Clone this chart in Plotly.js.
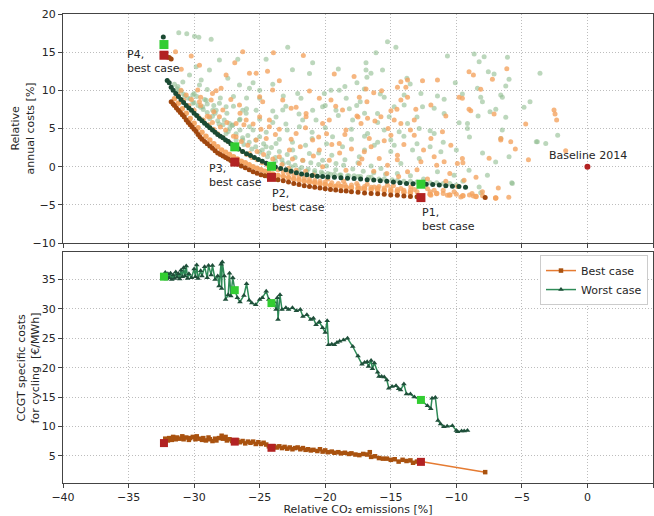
<!DOCTYPE html>
<html><head><meta charset="utf-8">
<script src="https://cdn.plot.ly/plotly-3.0.1.min.js"></script>
<style>html,body{margin:0;padding:0;background:#fff;}#chart{width:654px;height:516px;}</style>
</head><body><div id="chart"></div>
<script>
// ---- top panel: random (non-optimal) portfolios ----
const worstCloudX = [-31.17,-30.56,-29.97,-29.64,-28.7,-26.67,-28.83,-22.86,-28.07,-27.43,-29.46,-30.35,-29.84,-24.51,-20.96,-21.2,-26.54,-25.78,-25.0,-23.2,-22.1,-20.07,-18.93,-19.56,-18.4,-21.85,-26.29,-27.56,-28.07,-20.96,-20.2,-19.18,-18.16,-17.91,-21.72,-23.75,-26.54,-27.05,-26.03,-25.0,-29.59,-30.86,-31.24,-30.1,-29.08,-28.58,-29.34,-25.27,
 -15.25,-14.61,-16.13,-10.68,-8.64,-7.88,-6.1,-8.26,-16.89,-16.89,-16.51,-15.63,-16.82,-7.56,-7.12,-5.98,-6.23,-3.62,-10.08,-17.58,-13.77,-13.52,-17.02,-15.8,-15.5,-13.98,-12.7,-11.44,-10.93,-9.54,-8.39,-8.14,-6.61,-6.49,-8.01,-4.38,-4.84,-11.69,-12.58,-13.98,-17.33,-16.01,-14.74,-15.12,-10.93,-9.79,-9.15,-8.34,-7.43,-6.99,-6.23,-13.72,
 -16.77,-15.5,-14.36,-12.83,-11.69,-9.15,-6.61,-5.98,-5.73,-8.26,-7.63,-9.03,-16.26,-14.74,-13.34,-12.83,-11.18,-17.4,-15.75,-14.23,-11.44,-10.17,-3.82,-3.18,-2.27,-3.9,-5.77,-8.14,
 -31.24,-30.1,-28.32,-27.3,-25.78,-25.0,-23.75,-22.48,-21.21,-20.2,-19.18,-23.24,-21.97,-20.7,-19.44,-18.68,-24.51,-26.29,-28.83,-29.34,-27.56,
 -30.8,-30.5,-30.0,-29.5,-29.0,-28.6,-28.2,-27.8,-27.3,-26.8,-26.3,-25.8,-25.3,-24.8,-24.3,-23.8,-23.3,-22.8,-22.3,-21.8,-21.3,-20.8,-20.3,-19.8,-19.3,-18.8,-18.3,-17.8,-17.3,-16.5,-15.5,-14.5,-13.5,-12.5,-11.5,-10.5,
 -29.8,-29.2,-28.5,-27.5,-26.5,-25.5,-24.5,-23.5,-22.5,-21.5,-20.5,-19.5,-18.5,-17.5,-16.5,-24.0,-22.9,-21.0,-19.9,-18.0,-17.0,-16.0,-15.0,-13.0,-12.0,-26.0,-23.0,-20.0,-18.5,-17.6,-25.5,-22.5,-27.0,-24.0,-19.0,-17.0,
 -31.5,-31.3,-31.0,-30.7,-30.3,-30.0,-29.7,-29.3,-29.0,-28.8,-28.4,-28.1,-27.7,-27.4,-27.1,-26.8,-26.5,-26.2,-25.9,-25.6,-25.3,-25.0,-24.7,-24.4,-24.1,-23.8,-23.5,-23.2,-22.9,-22.6,-22.3,-22.0,-21.7,-21.4,-21.1,-20.8,-20.5,-20.2,-19.9,-19.6,-19.2,-18.9,-18.6,-18.2,-17.9,-17.5,-17.1,-16.7,-16.3,-15.9,-15.4,-14.9,-14.5,-14.0,-13.5,-13.0,-12.5,-12.0,-11.0,-10.0,-9.5,
 -29.0,-28.0,-27.0,-26.0,-25.0,-24.0,-23.0,-22.0,-21.0,-20.0,-19.0,-18.0,-17.0,-16.0,-15.0,-14.0,-13.0,-12.0,-11.0,-10.0,-9.0,-8.0,-7.0,-6.5];
const worstCloudY = [17.56,17.4,17.1,16.95,16.7,14.07,12.66,15.64,13.98,11.57,11.35,12.0,13.1,14.07,13.62,12.2,10.7,10.26,10.0,9.25,9.6,9.6,10.0,10.0,8.95,8.95,7.4,7.85,8.3,7.4,7.85,7.4,7.6,6.1,6.1,6.5,6.1,5.45,7.0,8.95,10.7,11.1,10.5,9.4,8.7,7.4,7.85,7.4,
 16.38,15.64,14.93,14.5,14.76,14.41,14.33,13.75,13.62,12.66,12.23,12.66,11.7,12.44,12.14,11.44,10.56,12.23,11.0,11.0,11.57,10.83,10.17,9.51,9.08,9.38,9.6,9.25,8.82,9.51,10.26,9.08,9.38,9.08,8.5,8.5,7.77,7.64,7.85,8.07,8.5,6.98,7.85,6.53,6.98,5.75,5.67,6.63,7.19,7.51,6.46,5.67,
 4.36,4.79,4.57,5.01,4.36,5.01,3.7,1.29,-2.2,-2.65,-1.12,-0.46,2.82,2.82,2.17,1.07,1.94,1.29,-0.24,0.42,-0.68,-1.12,3.25,3.04,4.13,3.25,-2.12,-3.43,
 9.8,8.3,7.4,5.67,5.22,3.91,3.04,2.17,1.73,0.85,0.42,7.41,5.22,6.1,3.91,2.6,2.6,3.48,5.22,6.1,4.36,
 9.5,9.0,8.4,7.8,7.1,6.6,6.0,5.5,5.0,4.3,3.8,3.2,2.6,2.2,1.8,1.2,0.9,0.5,0.2,-0.1,-0.3,-0.5,-0.7,-0.9,-1.0,-1.1,-1.2,-1.2,-1.3,-1.4,-1.6,-1.8,-1.9,-2.0,-2.1,-2.2,
 9.2,8.8,8.0,7.0,6.2,4.8,4.5,3.6,3.2,2.8,1.8,1.5,0.9,0.5,0.1,5.8,4.8,4.5,3.0,3.6,2.2,3.2,2.0,3.0,2.6,7.6,7.9,8.0,10.5,8.0,11.0,12.7,9.2,10.8,12.8,7.0,
 10.8,10.2,9.9,9.3,8.9,9.6,8.0,7.5,8.2,6.3,7.0,5.6,6.1,4.6,5.4,3.5,4.8,2.9,4.1,2.3,3.5,1.9,3.0,1.3,2.5,0.7,2.0,0.4,1.6,0.0,1.2,-0.4,0.8,-0.6,0.5,-0.8,0.3,-0.9,0.1,-1.0,-0.4,-1.1,0.2,-1.2,-0.3,-1.3,-0.6,-1.4,-0.8,-1.6,-1.0,-1.7,-0.9,-1.9,-1.2,-2.0,-1.6,-2.1,-2.2,-2.4,-1.9,
 10.1,9.0,7.9,9.0,6.2,7.3,5.6,6.9,3.7,5.1,6.7,4.9,4.0,5.8,3.5,4.0,6.5,4.7,3.2,2.2,3.9,1.8,0.6,4.8];

const bestCloudX = [-31.42,-30.22,-30.98,-29.59,-26.29,-23.95,-21.67,-27.56,-28.32,-27.94,-25.78,-25.27,-23.5,-19.31,-24.01,-25.0,-29.72,-28.7,-29.59,-24.77,-23.24,-22.6,-22.22,-20.45,-19.56,-18.68,-26.54,-27.81,-26.03,-25.0,-24.26,-21.46,-20.2,-28.83,-26.8,
 -14.23,-13.72,-12.58,-11.44,-14.49,-13.85,-9.03,-8.7,-6.15,-7.25,-8.14,-9.54,-15.7,-16.89,-17.4,-16.82,-14.23,-13.72,-13.09,-11.94,-14.53,-14.99,-10.8,-13.21,-9.03,-8.9,-7.12,-9.79,-17.58,-16.77,-16.21,-15.75,-17.27,-14.74,-14.23,-4.71,-2.55,-2.35,-2.47,-1.66,-6.6,
 -16.64,-14.99,-13.21,-11.94,-11.06,-10.42,-9.54,-6.61,-5.85,-17.02,-15.88,-14.49,-12.7,-11.69,-17.4,-15.25,-13.72,-10.93,-9.92,-11.69,-10.68,-10.17,-9.66,-8.7,-6.99,-11.94,-14.23,-16.26,-15.25,-17.27,-13.47,-9.41,-8.01,
 -30.35,-28.07,-26.8,-25.78,-25.27,-23.5,-22.73,-21.72,-20.45,-19.69,-18.93,-20.96,-22.22,-24.26,-21.46,-19.69,-18.42,-20.2,-18.42,-22.22,
 -31.0,-30.6,-30.2,-29.5,-29.0,-28.6,-28.0,-27.6,-27.0,-26.4,-25.9,-25.2,-24.7,-24.0,-23.3,-22.8,-21.5,-20.9,-19.8,-18.6,-17.6,-16.8,-15.9,-14.8,-13.2,-12.2,-11.0,-9.9,-8.8,
 -28.6,-27.2,-26.2,-24.9,-23.8,-22.6,-21.9,-20.9,-19.9,-18.9,-18.0,-17.2,-16.3,-15.3,-14.4,-13.0,-12.2,-10.8,-21.2,-24.4,-26.9,-19.2,-17.8,-16.3,-15.2,-14.0,
 -31.2,-30.8,-30.4,-30.0,-29.7,-29.3,-28.9,-28.5,-28.2,-27.8,-27.4,-27.1,-26.7,-26.3,-26.0,-25.6,-25.2,-24.8,-24.4,-24.0,-23.6,-23.2,-22.8,-22.4,-22.0,-21.6,-21.2,-20.8,-20.4,-20.0,-19.5,-19.0,-18.5,-18.0,-17.5,-17.0,-16.5,-16.0,-15.5,-15.0,-14.5,-14.0,-13.5,-13.0,-12.0,-11.0,-10.0,-9.0,-8.0,-6.0,
 -29.5,-28.5,-27.5,-26.5,-25.5,-24.5,-23.5,-22.5,-21.5,-20.5,-19.5,-18.5,-17.5,-16.5,-15.5,-14.5,-13.5,-12.5,-11.5,-10.5,-9.5,-8.5,-7.5,-6.8,-5.5,-4.5];
const bestCloudY = [15.07,14.5,12.76,13.3,15.07,14.93,14.55,12.0,9.95,10.26,12.23,12.23,11.26,12.14,10.04,9.16,10.04,8.73,8.5,8.5,8.73,7.64,7.77,8.95,8.73,7.41,8.07,7.41,6.1,6.53,6.1,6.53,5.67,6.53,5.67,
 11.13,11.35,11.26,11.35,10.39,10.39,12.44,12.0,12.84,11.44,10.13,8.95,9.95,10.17,9.08,8.5,8.73,9.08,7.51,8.07,7.51,7.32,6.63,6.1,7.51,7.32,6.89,9.08,6.63,6.33,5.97,6.53,5.67,6.1,5.67,5.58,7.41,6.1,6.9,2.07,3.7,
 3.7,4.13,4.13,3.7,4.57,2.82,1.07,3.48,3.25,1.94,1.07,1.51,0.63,1.29,0.42,0.2,-0.68,0.63,0.42,-3.08,-3.74,-3.3,-3.96,-3.83,-4.09,-3.74,-2.86,-2.65,-2.43,-2.86,-2.65,-1.77,-3.3,
 6.1,6.53,3.91,1.73,3.48,1.29,2.17,0.85,2.17,0.85,3.04,3.48,4.36,5.22,6.98,6.1,4.79,-0.02,-0.46,-0.46,
 10.0,9.4,8.8,8.0,6.6,5.8,5.2,4.8,4.0,3.3,2.8,2.0,1.6,1.0,0.3,-0.2,-0.6,-1.1,-1.6,-1.9,-2.2,-2.3,-2.6,-2.5,-3.0,-2.9,-3.1,-2.6,-3.5,
 9.6,8.8,5.5,4.9,4.2,3.6,2.6,1.4,4.3,1.8,2.3,1.0,-0.6,-0.9,-1.3,-0.4,-1.6,-1.9,9.9,12.5,13.6,7.9,11.8,9.7,5.0,2.9,
 9.4,8.7,8.0,7.4,6.6,6.1,5.5,4.9,4.3,3.8,3.3,2.9,2.5,2.0,1.6,1.2,0.9,0.5,0.2,-0.1,-0.4,-0.7,-0.9,-1.1,-1.3,-1.5,-1.6,-1.8,-1.9,-2.0,-2.1,-2.2,-2.35,-2.4,-2.5,-2.6,-2.7,-2.8,-2.8,-2.9,-3.0,-3.1,-3.1,-3.3,-3.3,-3.5,-3.6,-3.7,-3.8,-4.0,
 9.1,7.2,5.8,7.0,5.6,3.7,4.9,1.0,5.1,3.9,2.9,4.2,6.5,2.6,3.4,0.9,4.8,2.2,0.2,-0.9,0.5,-1.4,1.1,-2.8,2.3,0.9];

// light-orange band just above the best-case front
const bestBandX = [-31.5,-31.2,-30.9,-30.6,-30.3,-30.0,-29.7,-29.4,-29.1,-28.8,-28.5,-28.2,-27.9,-27.6,-27.3,-27.0,-26.7,-26.4,-26.1,-25.8,-25.5,-25.2,-24.9,-24.6,-24.3,-24.0,-23.6,-23.2,-22.8,-22.4,-22.0,-21.6,-21.2,-20.8,-20.4,-20.0,-19.6,-19.2,-18.8,-18.4,-18.0,-17.5,-17.0,-16.5,-16.0,-15.5,-15.0,-14.5,-14.0,-13.5,-12.0,-11.5,-10.5,-9.5,-8.5,-7.0];
const bestBandY = [8.9,8.3,7.6,7.0,6.3,5.7,5.1,4.5,4.0,3.5,3.0,2.6,2.2,1.9,1.6,1.3,1.0,0.7,0.5,0.25,0.0,-0.2,-0.4,-0.6,-0.8,-0.95,-1.15,-1.3,-1.45,-1.6,-1.75,-1.9,-2.0,-2.1,-2.25,-2.35,-2.45,-2.55,-2.6,-2.7,-2.75,-2.85,-2.9,-3.0,-3.05,-3.1,-3.2,-3.25,-3.35,-3.4,-3.6,-3.5,-3.7,-3.8,-3.9,-4.1];

// Pareto fronts
const bestFrontX = [-32.3,-32.1,-31.9,-31.75,-31.75,-31.6,-31.5,-31.35,-31.2,-31.05,-30.9,-30.75,-30.6,-30.45,-30.3,-30.15,-30.0,-29.85,-29.7,-29.55,-29.4,-29.2,-29.0,-28.8,-28.6,-28.4,-28.2,-28.0,-27.8,-27.6,-27.4,-27.2,-27.0,-26.7,-26.4,-26.1,-25.8,-25.5,-25.2,-24.9,-24.6,-24.3,-24.0,-23.6,-23.2,-22.8,-22.4,-22.0,-21.6,-21.2,-20.8,-20.4,-20.0,-19.6,-19.2,-18.8,-18.4,-18.0,-17.5,-17.0,-16.5,-16.0,-15.5,-15.0,-14.5,-14.0,-13.5,-13.0,-7.8];
const bestFrontY = [14.6,14.4,14.3,14.1,8.5,8.2,8.0,7.7,7.4,7.1,6.8,6.5,6.1,5.8,5.5,5.2,4.9,4.6,4.2,3.9,3.6,3.3,3.0,2.7,2.4,2.1,1.8,1.6,1.4,1.2,1.0,0.8,0.6,0.35,0.1,-0.15,-0.4,-0.65,-0.85,-1.05,-1.2,-1.35,-1.5,-1.7,-1.85,-2.0,-2.2,-2.35,-2.5,-2.6,-2.7,-2.8,-2.9,-3.0,-3.05,-3.15,-3.2,-3.3,-3.35,-3.45,-3.5,-3.55,-3.6,-3.7,-3.75,-3.85,-3.9,-3.95,-4.05];
const worstFrontX = [-32.35,-32.05,-31.9,-31.75,-31.6,-31.4,-31.2,-31.0,-30.8,-30.6,-30.4,-30.2,-30.0,-29.8,-29.6,-29.4,-29.2,-29.0,-28.8,-28.6,-28.4,-28.2,-28.0,-27.8,-27.6,-27.4,-27.2,-26.9,-26.6,-26.3,-26.0,-25.7,-25.4,-25.1,-24.8,-24.5,-24.2,-23.8,-23.4,-23.0,-22.6,-22.2,-21.8,-21.4,-21.0,-20.6,-20.2,-19.8,-19.3,-18.8,-18.3,-17.8,-17.3,-16.8,-16.3,-15.8,-15.3,-14.8,-14.3,-13.8,-13.3,-12.3,-11.8,-11.3,-10.8,-10.3,-9.8,-9.3];
const worstFrontY = [17.0,11.3,11.0,10.4,10.0,9.6,9.2,8.8,8.4,8.0,7.7,7.4,7.0,6.7,6.3,6.0,5.7,5.4,5.1,4.8,4.5,4.2,4.0,3.8,3.5,3.3,3.0,2.6,2.3,2.0,1.7,1.45,1.2,0.95,0.7,0.45,0.2,-0.05,-0.25,-0.4,-0.6,-0.8,-0.95,-1.05,-1.15,-1.25,-1.3,-1.35,-1.4,-1.45,-1.5,-1.55,-1.6,-1.7,-1.75,-1.85,-1.9,-2.0,-2.1,-2.2,-2.25,-2.3,-2.35,-2.4,-2.5,-2.55,-2.6,-2.7];

// selected portfolios P1..P4
const pointNames = ["P1","P2","P3","P4"];
const pointCO2 = [-12.7,-24.1,-26.9,-32.3];
const pointCostBest = [-4.05,-1.4,0.6,14.6];
const pointCostWorst = [-2.3,0.05,2.6,16.0];
const pointCyclingBest = [3.95,6.35,7.4,7.15];
const pointCyclingWorst = [14.5,31.0,33.2,35.5];
const baselineCO2 = [0];
const baselineCost = [0];

// ---- bottom panel: CCGT cycling costs along the fronts ----
const bestLineX = [-32.3,-32.2,-32.0,-31.9,-31.7,-31.6,-31.4,-31.3,-31.1,-30.9,-30.8,-30.6,-30.4,-30.3,-30.1,-29.9,-29.8,-29.6,-29.4,-29.3,-29.1,-28.9,-28.8,-28.6,-28.4,-28.3,-28.1,-27.9,-27.8,-27.6,-27.5,-27.3,-27.1,-26.9,-26.7,-26.5,-26.3,-26.1,-25.9,-25.7,-25.5,-25.3,-25.1,-24.9,-24.7,-24.5,-24.3,-24.1,-23.9,-23.7,-23.5,-23.3,-23.1,-22.9,-22.7,-22.5,-22.3,-22.1,-21.9,-21.7,-21.5,-21.3,-21.1,-20.9,-20.6,-20.4,-20.2,-20.0,-19.8,-19.5,-19.3,-19.0,-18.8,-18.5,-18.2,-18.0,-17.7,-17.4,-17.1,-16.8,-16.6,-16.5,-16.2,-15.9,-15.6,-15.3,-15.0,-14.7,-14.4,-14.1,-13.8,-13.5,-13.3,-13.0,-12.7,-7.8];
const bestLineY = [7.2,7.9,7.6,8.0,7.7,8.2,7.8,8.1,7.9,8.3,7.8,8.1,7.7,8.0,8.2,7.8,8.3,7.9,7.7,8.0,7.6,8.1,7.8,7.5,7.9,7.6,8.0,8.4,7.9,8.2,7.6,7.8,7.5,7.4,7.6,7.3,7.5,7.1,7.4,7.2,7.4,7.0,7.3,7.0,7.2,6.9,6.6,6.3,6.6,6.4,6.6,6.3,6.5,6.2,6.4,6.1,6.3,6.4,6.1,6.3,6.0,6.1,5.9,6.0,5.8,6.1,5.7,5.9,5.6,5.7,5.5,5.6,5.4,5.5,5.3,5.4,5.2,5.1,5.3,5.2,5.6,4.8,4.9,4.6,4.5,4.5,4.3,4.4,4.0,4.3,4.1,4.2,3.8,4.0,4.0,2.2];
const worstLineX = [-32.3,-32.2,-32.1,-32.0,-31.9,-31.8,-31.7,-31.6,-31.5,-31.4,-31.3,-31.2,-31.1,-31.0,-30.9,-30.8,-30.7,-30.6,-30.5,-30.4,-30.2,-30.0,-29.9,-29.8,-29.7,-29.5,-29.4,-29.2,-29.0,-28.9,-28.7,-28.6,-28.4,-28.2,-28.1,-27.95,-27.9,-27.85,-27.7,-27.6,-27.4,-27.3,-27.2,-27.05,-26.9,-26.7,-26.5,-26.2,-26.0,-25.8,-25.6,-25.3,-25.0,-24.8,-24.5,-24.3,-24.1,-23.9,-23.75,-23.65,-23.6,-23.45,-23.3,-23.0,-22.8,-22.5,-22.2,-21.9,-21.7,-21.4,-21.1,-20.9,-20.7,-20.45,-20.2,-20.0,-19.85,-19.75,-19.5,-19.3,-19.1,-18.9,-18.6,-18.3,-17.9,-17.5,-17.2,-17.0,-16.8,-16.7,-16.5,-16.4,-16.25,-16.0,-15.9,-15.7,-15.5,-15.3,-15.15,-14.9,-14.6,-14.4,-14.25,-14.0,-13.8,-13.5,-13.2,-12.7,-12.2,-11.95,-11.85,-11.6,-11.4,-11.2,-10.95,-10.7,-10.3,-10.0,-9.9,-9.6,-9.4,-9.15];
const worstLineY = [35.5,36.2,35.1,36.0,35.3,36.1,35.0,35.8,35.2,36.3,35.4,36.0,35.1,36.6,35.5,37.0,35.6,37.3,35.2,36.0,35.3,36.8,35.5,37.5,35.2,36.5,35.6,37.2,35.3,37.4,35.8,37.4,35.0,35.6,33.9,37.6,33.5,38.0,35.6,31.6,32.4,36.1,32.2,35.3,33.3,31.9,31.2,32.3,34.3,31.5,31.0,30.7,31.6,31.9,33.0,31.6,31.0,31.2,29.9,31.9,28.2,32.4,29.9,30.2,29.9,30.2,29.7,29.9,28.7,29.0,28.2,28.4,27.3,27.8,26.8,26.0,28.0,23.9,24.0,23.9,24.3,24.5,24.7,25.0,23.6,22.0,20.6,20.9,21.0,20.2,21.2,19.8,20.8,19.2,18.5,18.5,18.4,17.9,16.5,16.8,16.9,16.4,16.2,17.2,15.5,15.5,15.0,14.5,13.5,13.0,14.8,14.9,11.0,10.4,9.95,10.0,10.1,9.3,9.1,9.2,9.2,9.3];

const xTicks = [-40,-35,-30,-25,-20,-15,-10,-5,0,5];

const RED = '#b22222', LIME = '#32cd32';
const traces = [
  {x: worstCloudX, y: worstCloudY, xaxis:'x', yaxis:'y', mode:'markers', showlegend:false, hoverinfo:'skip',
   marker:{color:'#8fbc8f', size:5, opacity:0.6}},
  {x: bestCloudX, y: bestCloudY, xaxis:'x', yaxis:'y', mode:'markers', showlegend:false, hoverinfo:'skip',
   marker:{color:'#f4a460', size:5, opacity:0.8}},
  {x: bestBandX, y: bestBandY, xaxis:'x', yaxis:'y', mode:'markers', showlegend:false, hoverinfo:'skip',
   marker:{color:'#f4a460', size:5.5, opacity:0.95}},
  {x: bestFrontX, y: bestFrontY, xaxis:'x', yaxis:'y', mode:'markers', showlegend:false,
   marker:{color:'#a0470f', size:5}},
  {x: worstFrontX, y: worstFrontY, xaxis:'x', yaxis:'y', mode:'markers', showlegend:false,
   marker:{color:'#1b4a33', size:5}},
  {x: pointCO2, y: pointCostBest, xaxis:'x', yaxis:'y', mode:'markers', showlegend:false,
   marker:{color:RED, size:9, symbol:'square'}},
  {x: pointCO2, y: pointCostWorst, xaxis:'x', yaxis:'y', mode:'markers', showlegend:false,
   marker:{color:LIME, size:9, symbol:'square'}},
  {x: baselineCO2, y: baselineCost, xaxis:'x', yaxis:'y', mode:'markers', showlegend:false,
   marker:{color:RED, size:6}},
  {x: bestLineX, y: bestLineY, xaxis:'x2', yaxis:'y2', mode:'lines+markers', name:'Best case',
   line:{color:'#e57b32', width:1.5}, marker:{color:'#a9520f', size:4.5, symbol:'square'}},
  {x: worstLineX, y: worstLineY, xaxis:'x2', yaxis:'y2', mode:'lines+markers', name:'Worst case',
   line:{color:'#2e8b57', width:1.5}, marker:{color:'#1f4f3a', size:5, symbol:'triangle-up'}},
  {x: pointCO2, y: pointCyclingBest, xaxis:'x2', yaxis:'y2', mode:'markers', showlegend:false,
   marker:{color:RED, size:8, symbol:'square'}},
  {x: pointCO2, y: pointCyclingWorst, xaxis:'x2', yaxis:'y2', mode:'markers', showlegend:false,
   marker:{color:LIME, size:8, symbol:'square'}}
];

const FONT = 'DejaVu Sans, sans-serif';
const axisCommon = {
  showline:true, mirror:true, linecolor:'#444', linewidth:1,
  ticks:'outside', ticklen:4, tickcolor:'#444', tickwidth:1,
  showgrid:true, gridcolor:'#bdbdbd', griddash:'1px,2px', gridwidth:1,
  zeroline:false, tickfont:{family:FONT, size:11, color:'#262626'}
};

const ann = (x, y, text, xanchor, yanchor) => ({x, y, xref:'x', yref:'y', text, showarrow:false,
  xanchor, yanchor, align:'left', font:{family:FONT, size:11, color:'#262626'}});

const layout = {
  width:654, height:516,
  margin:{l:63, r:1, t:14, b:33},
  paper_bgcolor:'#fff', plot_bgcolor:'#fff',
  font:{family:FONT, size:11, color:'#262626'},
  xaxis: Object.assign({}, axisCommon, {anchor:'y', domain:[0,1], range:[-40,5], tickvals:xTicks, showticklabels:false}),
  yaxis: Object.assign({}, axisCommon, {anchor:'x', domain:[0.5117,1], range:[-10,20], dtick:5}),
  xaxis2: Object.assign({}, axisCommon, {anchor:'y2', domain:[0,1], range:[-40,5], tickvals:xTicks,
     title:{text:'Relative CO₂ emissions [%]', font:{family:FONT, size:11, color:'#262626'}, standoff:4}}),
  yaxis2: Object.assign({}, axisCommon, {anchor:'x2', domain:[0,0.4925], range:[0.35,39.7], tickvals:[5,10,15,20,25,30,35]}),
  legend:{x:0.9915, y:0.486, xanchor:'right', yanchor:'top', bgcolor:'#fff', bordercolor:'#cccccc', borderwidth:1,
     font:{family:FONT, size:11, color:'#262626'}, itemwidth:30, tracegroupgap:0},
  annotations:[
    ann(-35.3, 15.8, 'P4,<br>best case', 'left', 'top'),
    ann(-29.0, 0.85, 'P3,<br>best case', 'left', 'top'),
    ann(-24.25, -2.45, 'P2,<br>best case', 'left', 'top'),
    ann(-12.75, -4.85, 'P1,<br>best case', 'left', 'top'),
    ann(-3.1, 1.4, 'Baseline 2014', 'left', 'middle'),
    {xref:'paper', yref:'paper', x:-0.068, y:0.7558, text:'Relative<br>annual costs [%]', textangle:-90, showarrow:false,
     xanchor:'center', yanchor:'middle', font:{family:FONT, size:11, color:'#262626'}},
    {xref:'paper', yref:'paper', x:-0.058, y:0.246, text:'CCGT specific costs<br>for cycling  [€/MWh]', textangle:-90, showarrow:false,
     xanchor:'center', yanchor:'middle', font:{family:FONT, size:11, color:'#262626'}}
  ]
};

Plotly.newPlot('chart', traces, layout, {displayModeBar:false, staticPlot:true});
</script>
</body></html>
